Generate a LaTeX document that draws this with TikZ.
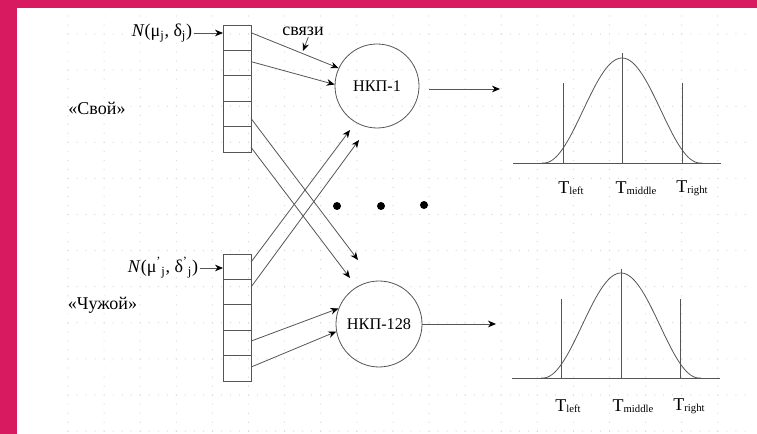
\documentclass[tikz,border=0pt]{standalone}
\usepackage{fontspec}
\setmainfont{Liberation Serif}
\usetikzlibrary{arrows.meta,calc}
\definecolor{frame}{HTML}{D81B60}
\definecolor{ln}{HTML}{555555}
\definecolor{griddot}{HTML}{D4D4D4}
\newcommand\Tsub[1]{T\raisebox{-1pt}{\fontsize{8}{8}\selectfont #1}}
\begin{document}
\begin{tikzpicture}[x=0.75pt,y=-0.75pt,
 cell/.style={draw=ln, line width=0.6pt, minimum width=21pt, minimum height=19.05pt, inner sep=0pt, outer sep=0pt},
 neuron/.style={circle, draw=ln, line width=0.6pt, inner sep=0pt, font=\fontsize{12.2}{14}\selectfont},
 arr/.style={draw=ln, line width=0.6pt, -{Stealth[length=6pt,width=5pt,black]}},
 lbl/.style={inner sep=1pt, font=\fontsize{13.5}{16}\selectfont},
 tl/.style={inner sep=0pt, font=\fontsize{13.5}{16}\selectfont},
 curve/.style={draw=ln, line width=0.6pt},
 gridline/.style={griddot, line width=0.9pt, line cap=round, dash pattern=on 0pt off 6.77pt}
]
\useasboundingbox (0,0) rectangle (757,434);
\fill[white] (0,0) rectangle (757,434);
% dotted grid
\foreach \k in {0,...,11} {\draw[gridline] (68,{34+36.1*\k}) -- (750,{34+36.1*\k});}
\foreach \k in {0,...,18} {\draw[gridline] ({68+36.1*\k},16) -- ({68+36.1*\k},434);}
% frame bands
\fill[frame] (0,0) rectangle (757,8);
\fill[frame] (0,0) rectangle (17,434);

% input columns
\foreach \i in {1,...,5} {\node[cell] (c\i) at (237,{25+25.4*(\i-0.5)}) {};}
\foreach \i in {1,...,5} {\node[cell] (d\i) at (237,{254+25.4*(\i-0.5)}) {};}

% neurons
\node[neuron, minimum size=63pt] (k1) at (377,86) {НКП-1};
\node[neuron, minimum size=64.5pt] (k128) at (379,324) {НКП-128};

% labels
\node[lbl] (n1) at (162,33) {\textit{N}(μ\textsubscript{j}, δ\textsubscript{j})};
\node[lbl] (n2) at (163,268) {\textit{N}(μ\textsuperscript{’}\textsubscript{j}, δ\textsuperscript{’}\textsubscript{j})};
\node[lbl] (own) at (97,108) {«Свой»};
\node[lbl] (alien) at (102.5,305) {«Чужой»};
\node[lbl] (sv) at (303,31) {связи};

% free ends
\coordinate (svt) at (303,51);
\coordinate (e1) at (350,130);
\coordinate (e2) at (359,140);
\coordinate (e3) at (358,260);
\coordinate (e4) at (350,278);
\coordinate (o1) at (500,89);
\coordinate (o2) at (496,324);

% connectors
\draw[arr] (n1.east) -- (c1.west |- n1.east);
\draw[arr] (n2.east) -- (d1.west |- n2.east);
\draw[arr] ([xshift=4pt]sv.south) -- (svt);
\draw[arr] ([yshift=3.75pt]c1.east) -- (k1.155);
\draw[arr] ([yshift=1.1pt]c2.east) -- (k1.178);
\draw[arr] ([yshift=-3.4pt]c4.east) -- (e3);
\draw[arr] ([yshift=-6pt]c5.east) -- (e4);
\draw[arr] ([yshift=3.45pt]d1.east) -- (e1);
\draw[arr] ([yshift=3.75pt]d2.east) -- (e2);
\draw[arr] ([yshift=1.35pt]d4.east) -- (k128.159);
\draw[arr] ([yshift=0.9pt]d5.east) -- (k128.190);
\draw[arr] ([xshift=7.5pt,yshift=-2.25pt]k1.east) -- (o1);
\draw[arr] (k128.east) -- (o2);

% ellipsis dots
\fill (337,206) circle[radius=3pt];
\fill (381,206) circle[radius=3pt];
\fill (424,205) circle[radius=3pt];

% top distribution
\draw[curve] (513,163) -- (721,163);
\draw[curve] (563,83) -- (563,163);
\draw[curve] (622,53) -- (622,163);
\draw[curve] (682,83) -- (682,163);
\draw[curve] plot[domain=-80:80, samples=90, smooth] ({622+\x},{163-105*(0.5+0.5*cos(180*max(-1,min(1,\x/78))))});
\node[tl] (tl1) at (571,188) {\Tsub{left}};
\node[tl] (tm1) at (636,188) {\Tsub{middle}};
\node[tl] (tr1) at (692,188) {\Tsub{right}};

% bottom distribution
\draw[curve] (512,378) -- (720,378);
\draw[curve] (561,299) -- (561,378);
\draw[curve] (621,269) -- (621,378);
\draw[curve] (680,299) -- (680,378);
\draw[curve] plot[domain=-80:80, samples=90, smooth] ({621+\x},{378-105*(0.5+0.5*cos(180*max(-1,min(1,\x/78))))});
\node[tl] (tl2) at (568,406) {\Tsub{left}};
\node[tl] (tm2) at (633,406) {\Tsub{middle}};
\node[tl] (tr2) at (689,406) {\Tsub{right}};
\end{tikzpicture}
\end{document}
